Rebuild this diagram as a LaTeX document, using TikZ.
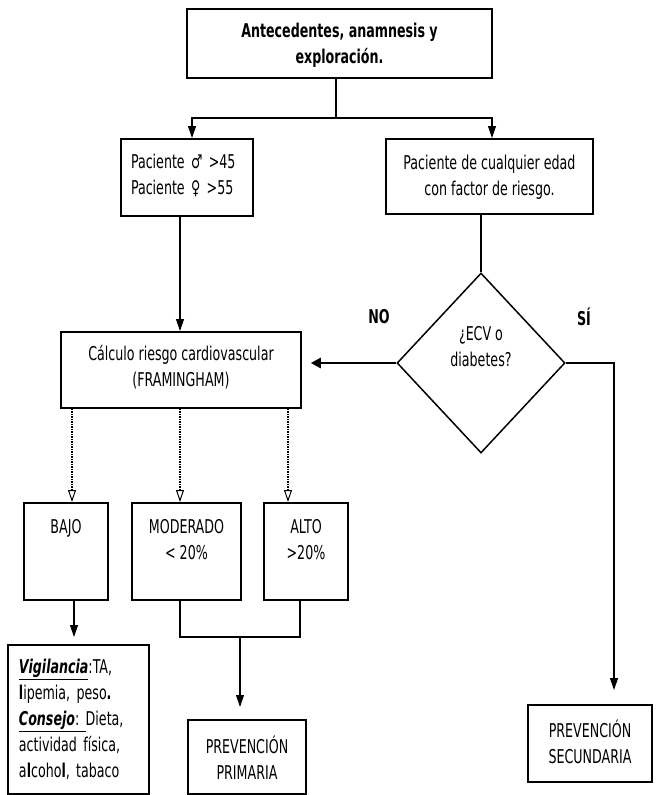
\documentclass[tikz,border=0pt]{standalone}
\usepackage{fontspec}
\setmainfont{DejaVu Sans Condensed}[FakeStretch=0.74]
\usetikzlibrary{arrows.meta,shapes.geometric}

\begin{document}
\begin{tikzpicture}[x=1pt, y=-1pt, line width=1.1pt,
    font=\fontsize{19}{26}\selectfont,
    caja/.style={draw, line width=1.5pt, inner ysep=0pt, align=center},
    flecha/.style={-{Triangle[length=12pt,width=8pt]}},
    punteada/.style={line width=1.5pt, densely dotted, -{Triangle[open,length=12pt,width=8pt,line width=1pt]}}]
    \useasboundingbox (0,0) rectangle (656,795);

    % cajas de la parte superior
    \node[caja, minimum width=305, text height=55pt, text depth=14pt, anchor=north, font=\fontsize{19}{26}\selectfont\bfseries] (top) at (339.5,8) {Antecedentes, anamnesis y\\exploración.};
    \node[caja, minimum width=132, text width=112pt, align=left, text height=30pt, text depth=47pt, anchor=north] (pac) at (187,138) {Paciente ♂ >45\\Paciente ♀ >55};
    \node[caja, minimum width=207, text height=57pt, text depth=18pt, anchor=north] (risk) at (489.5,138) {Paciente de cualquier edad\\con factor de riesgo.};

    % calculo y decision
    \node[caja, minimum width=240, text height=55pt, text depth=21pt, anchor=north] (calc) at (181,331) {Cálculo riesgo cardiovascular\\(FRAMINGHAM)};
    \node[draw, diamond, line width=1.5pt, minimum width=168, minimum height=180, inner sep=0pt, align=center, text height=44pt, text depth=38pt] (ecv) at (481,363) {¿ECV o\\diabetes?};
    \node[font=\fontsize{19}{26}\selectfont\bfseries] (no) at (379,317) {NO};
    \node[font=\fontsize{19}{26}\selectfont\bfseries] (si) at (584,317) {SÍ};

    % niveles de riesgo
    \node[caja, minimum width=84, text height=31pt, text depth=66pt, anchor=north] (bajo) at (66,502) {BAJO};
    \node[caja, minimum width=109, text height=57pt, text depth=40pt, anchor=north] (mod) at (186.5,502) {MODERADO\\< 20\%};
    \node[caja, minimum width=84, text height=57pt, text depth=40pt, anchor=north] (alto) at (306,502) {ALTO\\>20\%};

    % cajas finales
    \node[caja, minimum width=141, text width=119pt, align=left, text height=29pt, text depth=120pt, anchor=north] (vig) at (78.5,644) {\underline{\textbf{\textit{Vigilancia}}}:TA,\\\textbf{l}ipemia, peso\textbf{.}\\\underline{\textbf{\textit{Consejo}}:\ }Dieta,\\actividad física,\\a\textbf{l}coho\textbf{l}, tabaco};
    \node[caja, minimum width=118, text height=60pt, text depth=14pt, anchor=north] (prim) at (247,719) {PREVENCIÓN\\PRIMARIA};
    \node[caja, minimum width=124, text height=59pt, text depth=18pt, anchor=north] (sec) at (590,704) {PREVENCIÓN\\SECUNDARIA};

    % conectores
    \coordinate (split) at (336,118);
    \coordinate (join) at (240,637);
    \draw (split |- top.south) -- (split);
    \draw[flecha] (split) -| ([xshift=5pt]pac.north);
    \draw[flecha] (split) -| ([xshift=2.5pt]risk.north);
    \draw[flecha] ([xshift=-7pt]pac.south) -- ([xshift=-7pt]pac.south |- calc.north);
    \draw (risk.south -| ecv.north) -- (ecv.north);
    \draw[line width=2.4pt, -{Triangle[length=10pt,width=10pt]}] (ecv.west) -- ([xshift=9pt]calc.east |- ecv.west);
    \draw[flecha] (ecv.east) -| ([xshift=24pt,yshift=14pt]sec.north);
    \draw[punteada] ([xshift=6pt]bajo.north |- calc.south) -- ([xshift=6pt]bajo.north);
    \draw[punteada] ([xshift=-6.5pt]mod.north |- calc.south) -- ([xshift=-6.5pt]mod.north);
    \draw[punteada] ([xshift=-18pt]alto.north |- calc.south) -- ([xshift=-18pt]alto.north);
    \draw[flecha, shorten >=7pt] ([xshift=8pt]bajo.south) -- ([xshift=8pt]bajo.south |- vig.north);
    \draw ([xshift=-6.5pt]mod.south) |- (join) -| ([xshift=-6pt]alto.south);
    \draw[flecha, shorten >=12pt] (join) -- (join |- prim.north);
\end{tikzpicture}
\end{document}
